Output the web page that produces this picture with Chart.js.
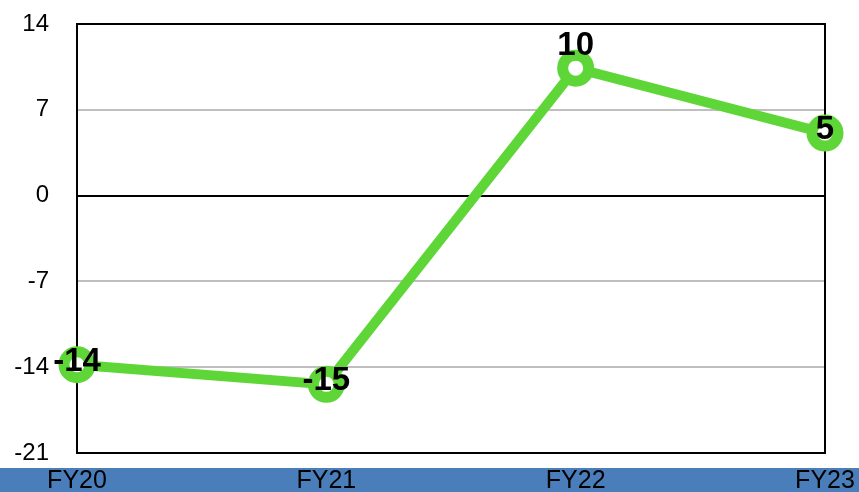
<!DOCTYPE html>
<html>
<head>
<meta charset="utf-8">
<script src="https://cdn.jsdelivr.net/npm/chart.js@4/dist/chart.umd.min.js"></script>
<style>
  html, body { margin: 0; padding: 0; background: #ffffff; }
  #wrap { width: 859px; height: 492px; position: relative; }
</style>
</head>
<body>
<div id="wrap"><canvas id="c" width="859" height="492"></canvas></div>
<script>
const categories = ['FY20', 'FY21', 'FY22', 'FY23'];
const values = [-13.8, -15.4, 10.4, 5.1];
const yTicks = [-21, -14, -7, 0, 7, 14];

const GREEN = '#5fd638';
const BAND = '#4a7ebb';

const bandPlugin = {
  id: 'band',
  beforeDraw(chart) {
    const ctx = chart.ctx;
    ctx.save();
    ctx.fillStyle = '#ffffff';
    ctx.fillRect(0, 0, chart.width, chart.height);
    ctx.fillStyle = BAND;
    ctx.fillRect(0, 468, chart.width, chart.height - 468);
    ctx.restore();
  },
  beforeDatasetsDraw(chart) {
    const { ctx, chartArea: a } = chart;
    ctx.save();
    ctx.strokeStyle = '#000000';
    ctx.lineWidth = 2;
    ctx.strokeRect(a.left, a.top, a.right - a.left, a.bottom - a.top);
    ctx.restore();
  }
};

const labelPlugin = {
  id: 'pointLabels',
  afterDatasetsDraw(chart, args, opts) {
    const ctx = chart.ctx;
    const meta = chart.getDatasetMeta(0);
    ctx.save();
    ctx.font = 'bold 33px "Liberation Sans", Arial, sans-serif';
    ctx.fillStyle = '#000000';
    ctx.textAlign = 'center';
    ctx.textBaseline = 'middle';
    meta.data.forEach((pt, i) => {
      const v = chart.data.datasets[0].data[i];
      const above = opts.above[i];
      const y = above ? pt.y - 22 : pt.y - 3;
      ctx.fillText(String(Math.round(v)), pt.x, y);
    });
    ctx.restore();
  }
};

new Chart(document.getElementById('c'), {
  type: 'line',
  data: {
    labels: categories,
    datasets: [{
      data: values,
      borderColor: GREEN,
      borderWidth: 10,
      pointRadius: 13,
      pointHoverRadius: 13,
      pointBorderWidth: 11,
      pointBorderColor: GREEN,
      pointBackgroundColor: '#ffffff',
      tension: 0,
      clip: false
    }]
  },
  options: {
    responsive: false,
    animation: false,
    events: [],
    layout: { padding: { top: 22, right: 34, left: 0, bottom: 0 } },
    plugins: {
      legend: { display: false },
      tooltip: { enabled: false },
      pointLabels: { above: [false, false, true, false] }
    },
    scales: {
      x: {
        type: 'category',
        offset: false,
        grid: { display: false },
        border: { display: false },
        ticks: {
          color: '#000000',
          font: { size: 25, family: '"Liberation Sans", Arial, sans-serif' },
          padding: 5,
          maxRotation: 0,
          autoSkip: false
        },
        afterFit(scale) {
          scale.height = 39;
          scale.paddingLeft = 0; scale.paddingRight = 0;
          scale.paddingTop = 0; scale.paddingBottom = 0;
        }
      },
      y: {
        min: yTicks[0],
        max: yTicks[yTicks.length - 1],
        afterBuildTicks(scale) { scale.ticks = yTicks.map(v => ({ value: v })); },
        grid: {
          drawTicks: false,
          lineWidth: 2,
          color: (c) => (c.tick && c.tick.value === 0) ? '#000000' : '#bfbfbf'
        },
        border: { display: false },
        ticks: {
          color: '#000000',
          font: { size: 24, family: '"Liberation Sans", Arial, sans-serif' },
          padding: 28
        },
        afterFit(scale) {
          scale.width = 77;
          scale.paddingLeft = 0; scale.paddingRight = 0;
          scale.paddingTop = 0; scale.paddingBottom = 0;
        }
      }
    }
  },
  plugins: [bandPlugin, labelPlugin]
});
</script>
</body>
</html>
